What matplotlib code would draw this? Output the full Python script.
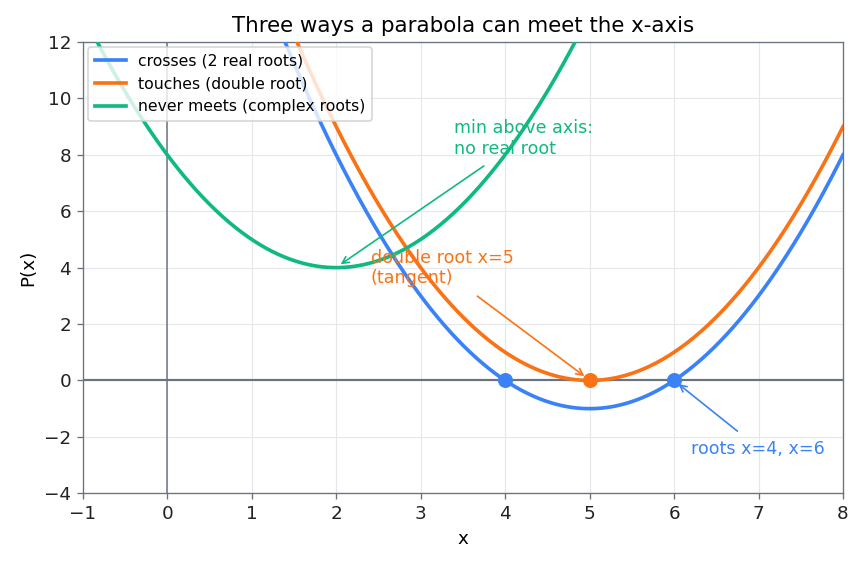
import numpy as np
import matplotlib.pyplot as plt

# polynomial coefficients (a, b, c) for a*x^2 + b*x + c
labels = ["crosses (2 real roots)", "touches (double root)", "never meets (complex roots)"]
coeffs = [[1, -10, 24], [1, -10, 25], [1, -4, 8]]
colors = ["#3b82f6", "#f97316", "#10b981"]

roots_cross = [4, 6]
root_double = [5]

x = np.linspace(-1, 8, 600)

fig = plt.figure(figsize=(862 / 120, 567 / 120), dpi=120)
ax = fig.add_axes([0.096, 0.130, 0.882, 0.796])

ax.axhline(0, color="#6b7280", linewidth=1.3, zorder=1)
ax.axvline(0, color="#6b7280", linewidth=0.9, zorder=1)

for lab, c, col in zip(labels, coeffs, colors):
    ax.plot(x, np.polyval(c, x), color=col, linewidth=2.2, label=lab, zorder=3)

ax.plot(roots_cross, [0] * len(roots_cross), "o", color=colors[0], markersize=8, zorder=4)
ax.plot(root_double, [0], "o", color=colors[1], markersize=8, zorder=4)

# annotations
ax.annotate("", xy=(6.02, -0.05), xytext=(6.78, -1.87),
            arrowprops=dict(arrowstyle="->", color=colors[0], lw=1.0))
ax.text(6.2, -2.42, "roots x=4, x=6", color=colors[0], fontsize=10.5, va="center")

ax.annotate("", xy=(4.97, 0.08), xytext=(3.64, 3.06),
            arrowprops=dict(arrowstyle="->", color=colors[1], lw=1.0))
ax.text(2.41, 3.3, "double root x=5\n(tangent)", color=colors[1], fontsize=10.5, va="bottom")

ax.annotate("", xy=(2.02, 4.05), xytext=(3.78, 7.67),
            arrowprops=dict(arrowstyle="->", color=colors[2], lw=1.0))
ax.text(3.39, 7.9, "min above axis:\nno real root", color=colors[2], fontsize=10.5, va="bottom")

ax.set_xlim(-1, 8)
ax.set_ylim(-4, 12)
ax.set_xticks(range(-1, 9))
ax.set_yticks(range(-4, 13, 2))
ax.grid(True, color="#e5e7eb", linewidth=0.7)
ax.set_axisbelow(True)
for s in ax.spines.values():
    s.set_color("#6b7280")
ax.tick_params(colors="#6b7280", labelcolor="#222222", labelsize=11)

ax.set_xlabel("x", fontsize=11)
ax.set_ylabel("P(x)", fontsize=11)
ax.set_title("Three ways a parabola can meet the x-axis", fontsize=12.8)
ax.legend(loc="upper left", fontsize=9.4, borderaxespad=0.35)

fig.savefig("out.png", dpi=120)
